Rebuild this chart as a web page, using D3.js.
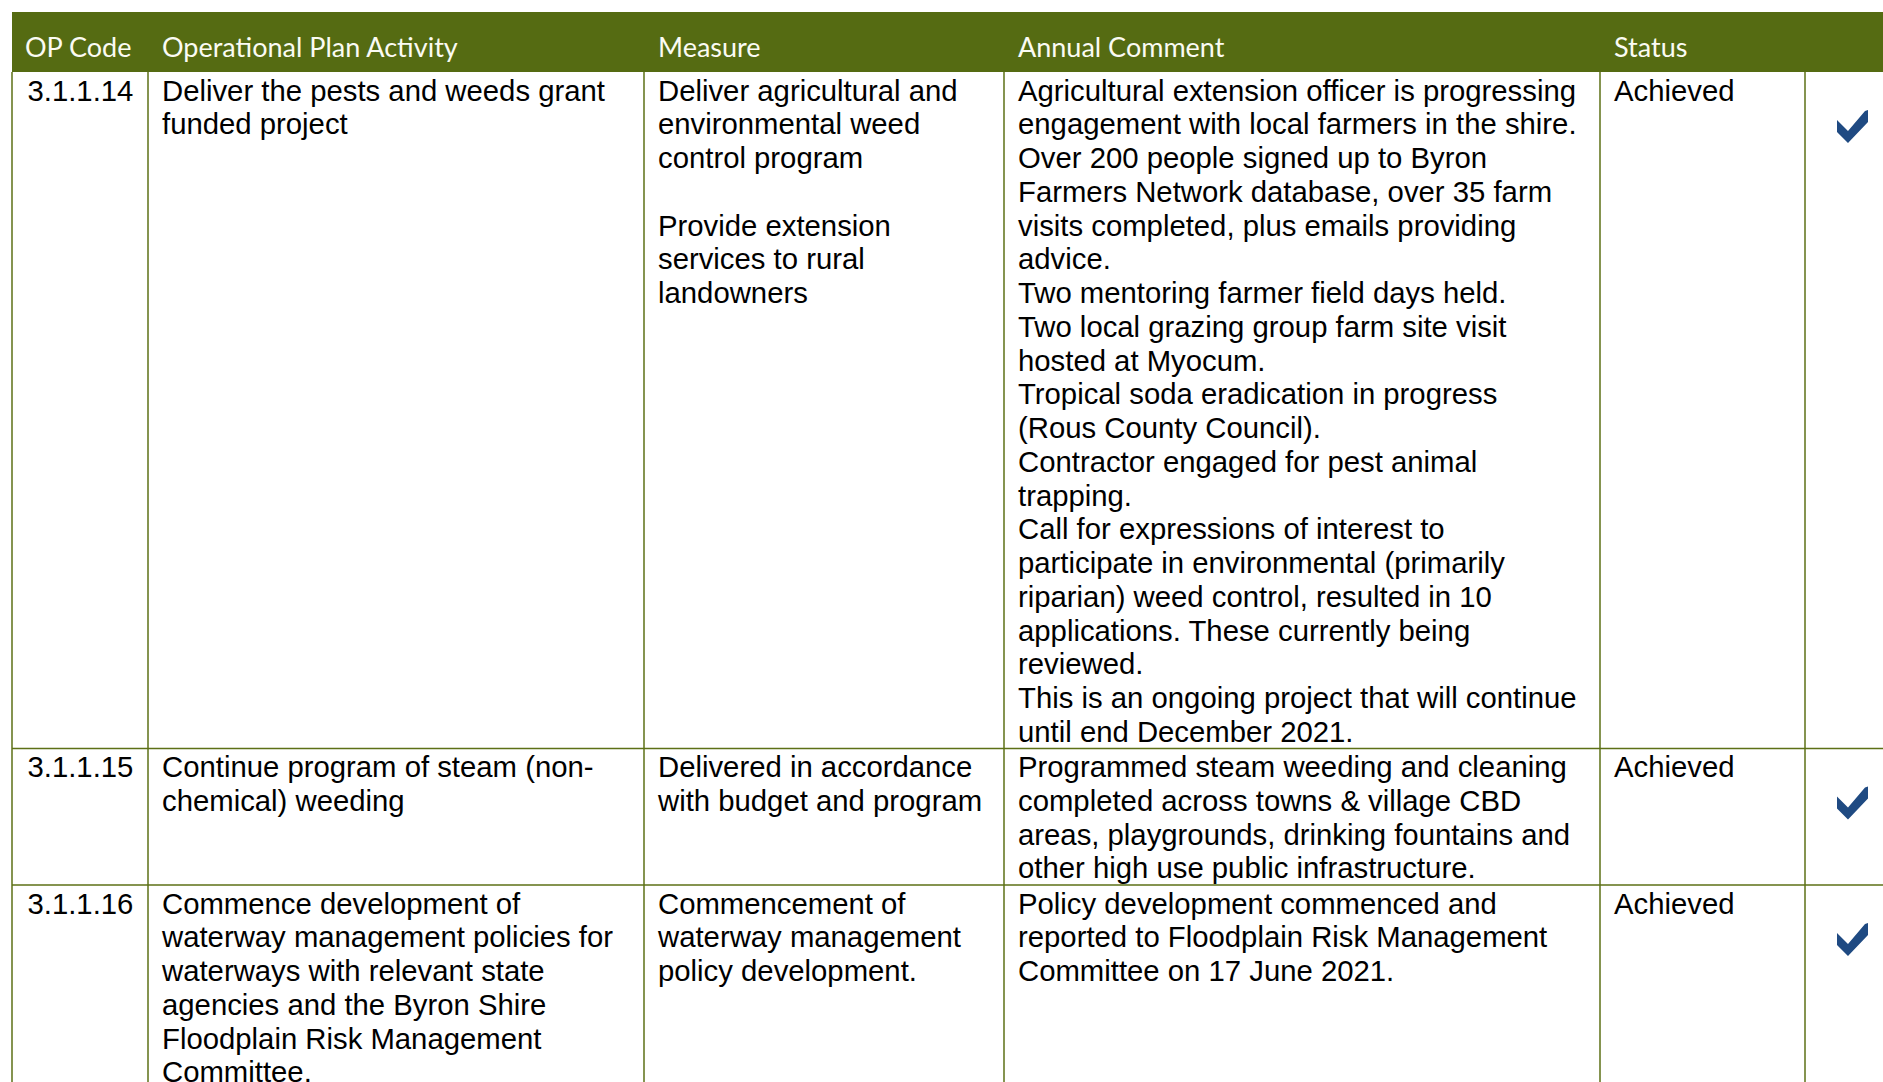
<!DOCTYPE html>
<html>
<head>
<meta charset="utf-8">
<script src="https://cdn.jsdelivr.net/npm/d3@7"></script>
<style>
  html, body { margin: 0; padding: 0; background: #fff; overflow: hidden; }
  svg { display: block; }
</style>
</head>
<body>
<svg id="chart" width="1883" height="1082"></svg>
<script>
// ---- data ----
const headers = ["OP Code", "Operational Plan Activity", "Measure", "Annual Comment", "Status", ""];
const opCodes = ["3.1.1.14", "3.1.1.15", "3.1.1.16"];
const activities = [
  ["Deliver the pests and weeds grant", "funded project"],
  ["Continue program of steam (non-", "chemical) weeding"],
  ["Commence development of", "waterway management policies for", "waterways with relevant state",
   "agencies and the Byron Shire", "Floodplain Risk Management", "Committee."]
];
const measures = [
  ["Deliver agricultural and", "environmental weed", "control program", "", "Provide extension",
   "services to rural", "landowners"],
  ["Delivered in accordance", "with budget and program"],
  ["Commencement of", "waterway management", "policy development."]
];
const comments = [
  ["Agricultural extension officer is progressing",
   "engagement with local farmers in the shire.",
   "Over 200 people signed up to Byron",
   "Farmers Network database, over 35 farm",
   "visits completed, plus emails providing",
   "advice.",
   "Two mentoring farmer field days held.",
   "Two local grazing group farm site visit",
   "hosted at Myocum.",
   "Tropical soda eradication in progress",
   "(Rous County Council).",
   "Contractor engaged for pest animal",
   "trapping.",
   "Call for expressions of interest to",
   "participate in environmental (primarily",
   "riparian) weed control, resulted in 10",
   "applications. These currently being",
   "reviewed.",
   "This is an ongoing project that will continue",
   "until end December 2021."],
  ["Programmed steam weeding and cleaning",
   "completed across towns & village CBD",
   "areas, playgrounds, drinking fountains and",
   "other high use public infrastructure."],
  ["Policy development commenced and",
   "reported to Floodplain Risk Management",
   "Committee on 17 June 2021."]
];
const statuses = ["Achieved", "Achieved", "Achieved"];
const achieved = [true, true, true];

// ---- layout ----
const colEdges = [12, 148, 644, 1004, 1600, 1805, 1900];
const headerTop = 12, headerH = 60;
const lineH = 33.75;
const green = "#556b12";
const borderCol = "#5d7016";
const checkCol = "#1f4a82";

const svg = d3.select("#chart");

const colX = d3.scaleOrdinal().domain(d3.range(6)).range(colEdges.slice(0, 6));

// header band
svg.append("rect")
  .attr("x", colEdges[0]).attr("y", headerTop)
  .attr("width", 1883 - colEdges[0]).attr("height", headerH)
  .attr("fill", green);

svg.selectAll("text.hdr").data(headers).join("text")
  .attr("class", "hdr")
  .attr("x", (d, i) => colX(i) + (i === 0 ? 13 : 14))
  .attr("y", headerTop + 45)
  .attr("fill", "#fbfbf3")
  .attr("font-family", "Lato, 'Open Sans', sans-serif")
  .attr("font-size", 27)
  .text(d => d);

// rows
const rows = opCodes.map((c, i) => ({
  cells: [[c], activities[i], measures[i], comments[i], [statuses[i]]],
  check: achieved[i]
}));
let y = headerTop + headerH;
rows.forEach(r => {
  const n = d3.max(r.cells, c => c.length);
  r.top = y;
  r.h = n * lineH + 1.5;
  y += r.h;
});

const g = svg.append("g");

// cell texts
rows.forEach(r => {
  r.cells.forEach((lines, ci) => {
    const t = g.append("text")
      .attr("font-family", "'Liberation Sans', Arial, sans-serif")
      .attr("font-size", 29.3)
      .attr("fill", "#000");
    t.selectAll("tspan").data(lines).join("tspan")
      .attr("x", colX(ci) + (ci === 0 ? 15.5 : 14))
      .attr("y", (d, li) => r.top + 28.5 + li * lineH)
      .text(d => d);
  });
  if (r.check) {
    const cx = colEdges[5] + 32, cy = r.top + 38;
    g.append("path")
      .attr("d", `M${cx},${cy + 10} L${cx + 11},${cy + 21} L${cx + 28},${cy + 1} L${cx + 31},${cy} L${cx + 31},${cy + 12} L${cx + 11},${cy + 33} L${cx},${cy + 22} Z`)
      .attr("fill", checkCol);
  }
});

// borders
const bottom = 1100;
const lines = g.append("g").attr("stroke", borderCol).attr("stroke-width", 1.5);
colEdges.slice(0, 6).forEach(x => {
  lines.append("line").attr("x1", x).attr("x2", x)
    .attr("y1", headerTop + headerH).attr("y2", bottom);
});
rows.slice(1).forEach(r => {
  lines.append("line").attr("x1", colEdges[0]).attr("x2", 1883)
    .attr("y1", r.top).attr("y2", r.top);
});
</script>
</body>
</html>
